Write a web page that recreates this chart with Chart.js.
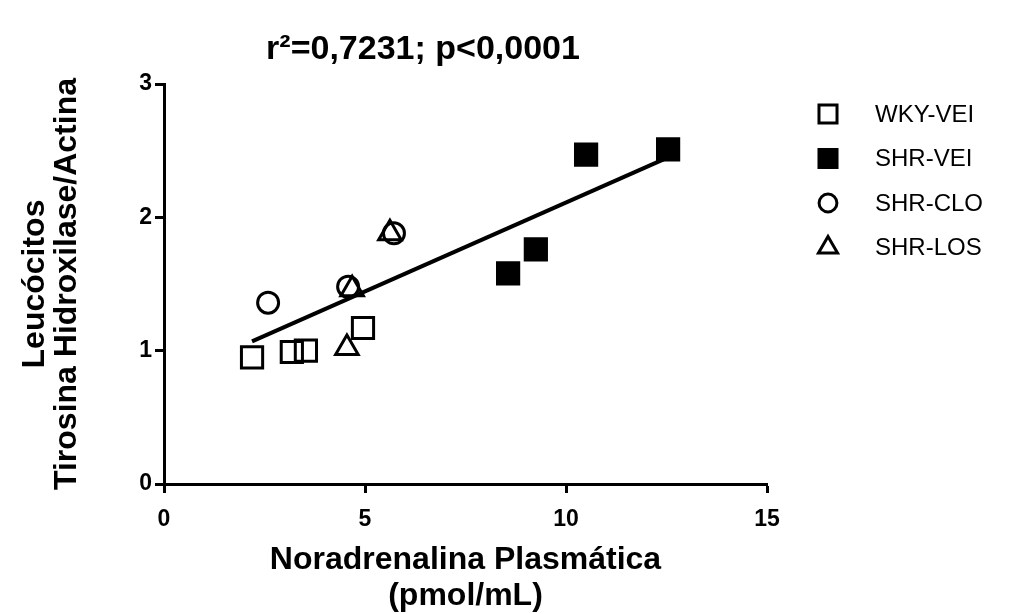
<!DOCTYPE html>
<html>
<head>
<meta charset="utf-8">
<script src="https://cdn.jsdelivr.net/npm/chart.js@4/dist/chart.umd.min.js"></script>
<style>
  html, body { margin: 0; padding: 0; background: #fff; }
  #wrap { width: 1020px; height: 614px; }
</style>
</head>
<body>
<div id="wrap"><canvas id="scatter" width="1020" height="614"></canvas></div>
<script>
// values
const groupNames = ['WKY-VEI', 'SHR-VEI', 'SHR-CLO', 'SHR-LOS']

const wkyVeiX = [2.19, 3.18, 3.53, 4.95]
const wkyVeiY = [0.95, 0.99, 1.00, 1.17]
const shrVeiX = [8.56, 9.25, 10.50, 12.54]
const shrVeiY = [1.58, 1.76, 2.47, 2.51]
const shrCloX = [2.59, 4.58, 5.72]
const shrCloY = [1.36, 1.48, 1.88]
const shrLosX = [4.55, 4.68, 5.62]
const shrLosY = [1.02, 1.46, 1.88]

// regression line end points
const fitX = [2.19, 12.54]
const fitY = [1.07, 2.45]

const xTicks = [0, 5, 10, 15]
const yTicks = [0, 1, 2, 3]

const titleText = 'r\u00b2=0,7231; p<0,0001'
const FONT = '"Liberation Sans", Arial, sans-serif'

const toPoints = (xs, ys) => xs.map((x, i) => ({ x: x, y: ys[i] }))

const pointSet = (label, xs, ys, style, radius, fill) => ({
    type: 'scatter',
    label: label,
    data: toPoints(xs, ys),
    pointStyle: style,
    pointRadius: radius,
    pointHoverRadius: radius,
    pointBackgroundColor: fill,
    pointBorderColor: '#000',
    pointBorderWidth: 3,
    order: 1
})

// title + legend drawn on top of the chart
const extras = {
    id: 'extras',
    afterDraw(chart) {
        const ctx = chart.ctx
        ctx.save()
        ctx.fillStyle = '#000'
        ctx.font = 'bold 34px ' + FONT
        ctx.textAlign = 'center'
        ctx.textBaseline = 'middle'
        ctx.fillText(titleText, 423, 50)

        ctx.font = '24px ' + FONT
        ctx.textAlign = 'left'
        chart.data.datasets.forEach((ds, i) => {
            if (ds.type !== 'scatter') return
            const y = 114 + i * 44.5
            ctx.lineWidth = ds.pointBorderWidth
            ctx.strokeStyle = ds.pointBorderColor
            ctx.fillStyle = ds.pointBackgroundColor
            Chart.helpers.drawPoint(ctx, {
                pointStyle: ds.pointStyle,
                radius: ds.pointRadius * 0.85,
                rotation: 0,
                borderWidth: ds.pointBorderWidth
            }, 828, y)
            ctx.fillStyle = '#000'
            ctx.fillText(ds.label, 875, y + 1)
        })
        ctx.restore()
    }
}

document.addEventListener('DOMContentLoaded', () => {
    const ctx = document.getElementById('scatter').getContext('2d')

    new Chart(ctx, {
        type: 'scatter',
        data: {
            datasets: [
                pointSet(groupNames[0], wkyVeiX, wkyVeiY, 'rect', 15, 'rgba(0,0,0,0)'),
                pointSet(groupNames[1], shrVeiX, shrVeiY, 'rect', 15, '#000'),
                pointSet(groupNames[2], shrCloX, shrCloY, 'circle', 10.5, 'rgba(0,0,0,0)'),
                pointSet(groupNames[3], shrLosX, shrLosY, 'triangle', 13, 'rgba(0,0,0,0)'),
                {
                    type: 'line',
                    label: 'fit',
                    data: toPoints(fitX, fitY),
                    borderColor: '#000',
                    borderWidth: 4,
                    pointRadius: 0,
                    fill: false,
                    order: 2
                }
            ]
        },
        options: {
            responsive: false,
            animation: false,
            devicePixelRatio: 1,
            layout: { padding: { top: 84, right: 253, bottom: 0, left: 0 } },
            plugins: {
                legend: { display: false },
                title: { display: false },
                tooltip: { enabled: false }
            },
            scales: {
                x: {
                    type: 'linear',
                    min: 0,
                    max: 15,
                    afterFit: s => { s.height = 130 },
                    afterBuildTicks: s => { s.ticks = xTicks.map(v => ({ value: v })) },
                    grid: { drawOnChartArea: false, drawTicks: true, tickLength: 9, tickWidth: 3, tickColor: '#000' },
                    border: { display: true, width: 3, color: '#000' },
                    ticks: { color: '#000', padding: 13, font: { family: FONT, size: 23, weight: 'bold' } },
                    title: {
                        display: true,
                        text: ['Noradrenalina Plasmática', '(pmol/mL)'],
                        color: '#000',
                        font: { family: FONT, size: 32, weight: 'bold', lineHeight: 1.125 },
                        padding: { top: 0, bottom: 0 }
                    }
                },
                y: {
                    type: 'linear',
                    min: 0,
                    max: 3,
                    afterFit: s => { s.width = 164 },
                    afterBuildTicks: s => { s.ticks = yTicks.map(v => ({ value: v })) },
                    grid: { drawOnChartArea: false, drawTicks: true, tickLength: 9, tickWidth: 3, tickColor: '#000' },
                    border: { display: true, width: 3, color: '#000' },
                    ticks: { color: '#000', padding: 3, font: { family: FONT, size: 23, weight: 'bold' } },
                    title: {
                        display: true,
                        text: ['Leucócitos', 'Tirosina Hidroxilase/Actina'],
                        color: '#000',
                        font: { family: FONT, size: 32, weight: 'bold', lineHeight: 1.0 },
                        padding: { top: 19, bottom: 0 }
                    }
                }
            }
        },
        plugins: [extras]
    })
})
</script>
</body>
</html>
